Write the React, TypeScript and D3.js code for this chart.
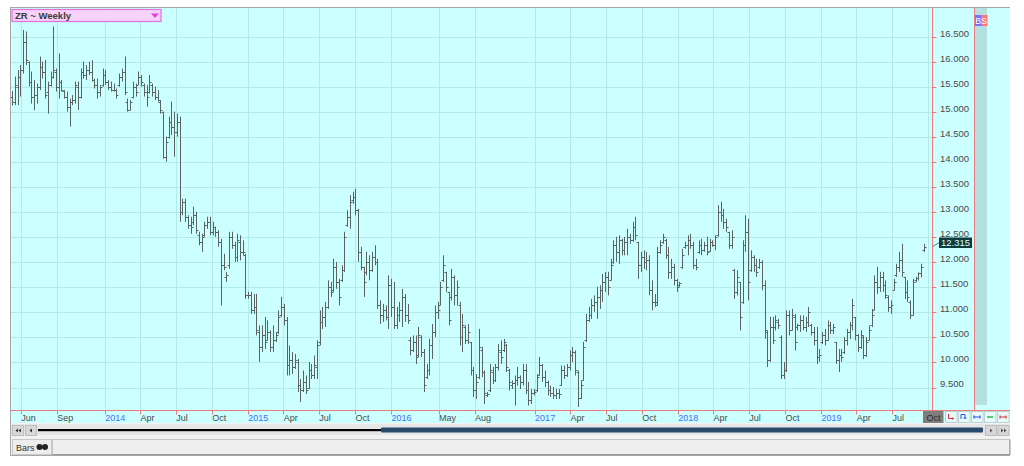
import React from 'react';
import * as d3 from 'd3';

// ---- Weekly OHLC data (ZR ~ Weekly), first bar week of 2013-05-10 ----
const firstBarDate = new Date(2013, 4, 10);

const highs: number[] = [
  15.42,15.71,15.84,15.94,16.64,16.61,16.01,15.81,15.64,15.57,
  16.11,16.01,16.04,15.61,15.81,16.71,15.87,16.17,15.64,15.44,
  15.41,15.27,15.34,15.61,15.61,15.87,16.01,15.94,16.01,16.04,
  15.67,15.67,15.54,15.87,15.84,15.64,15.61,15.57,15.47,15.77,
  15.87,16.11,15.27,15.24,15.61,15.57,15.81,15.74,15.57,15.54,
  15.74,15.57,15.51,15.44,15.24,15.01,14.51,14.91,15.21,15.01,
  14.97,14.91,13.27,13.27,12.94,12.91,13.11,13.01,12.61,12.57,
  12.81,12.91,12.91,12.81,12.71,12.64,12.47,12.17,11.81,12.61,
  12.61,12.41,12.57,12.54,
  12.44,12.17,11.41,11.41,11.37,11.37,10.74,10.74,10.91,10.84,
  10.64,10.74,10.61,11.04,11.31,11.17,10.91,10.34,10.21,10.17,
  10.07,9.67,9.84,9.74,10.01,9.97,10.14,10.44,11.04,11.11,
  11.21,11.64,11.61,12.07,12.01,11.67,11.94,12.61,13.04,13.34,
  13.41,13.47,13.07,12.31,11.91,12.21,12.14,12.21,12.34,12.07,
  11.24,11.17,11.14,11.74,11.67,11.61,11.11,11.21,11.47,11.37,
  11.17,10.51,10.54,10.54,10.71,10.54,10.27,9.97,10.47,10.77,
  11.14,11.21,11.61,12.14,11.81,11.41,11.87,11.74,11.64,11.21,
  10.97,10.74,10.77,
  10.41,9.91,9.77,10.67,10.31,9.84,9.41,9.97,9.91,9.97,
  10.37,10.44,10.47,10.37,9.87,9.64,9.74,9.91,9.74,9.97,
  9.97,9.61,9.47,9.47,9.77,10.11,9.97,9.84,9.64,9.54,
  9.51,9.47,9.47,9.94,9.94,9.97,10.24,10.31,10.24,9.84,
  9.64,10.41,10.97,11.11,11.27,11.34,11.51,11.54,11.77,11.81,
  11.81,12.07,12.44,12.51,12.54,12.47,12.51,12.67,12.57,12.81,
  12.91,12.41,12.21,12.24,12.21,12.14,11.64,11.37,12.31,12.44,
  12.57,12.47,12.31,12.07,11.97,11.67,11.61,12.27,12.41,12.54,
  12.57,12.41,12.07,12.44,
  12.47,12.41,12.51,12.47,12.44,12.54,13.14,13.21,13.07,12.87,
  12.61,12.64,11.87,11.84,11.61,12.44,12.94,12.87,12.24,12.14,
  12.07,12.07,12.04,11.64,10.64,10.91,10.91,10.94,10.87,10.54,
  10.01,11.04,11.04,11.07,10.97,10.77,10.94,10.94,10.91,11.11,
  10.77,10.71,10.71,10.27,10.61,10.67,10.84,10.81,10.77,10.41,
  10.27,10.27,10.51,10.67,10.81,11.27,10.91,10.57,10.64,10.54,
  10.51,10.74,11.07,11.74,11.91,11.81,11.81,11.64,11.34,11.24,
  11.67,11.97,12.21,12.37,11.71,11.64,11.24,11.67,11.71,11.80,
  11.97,12.37,
];

const lows: number[] = [
  15.13,15.14,15.14,15.31,15.77,15.94,15.51,15.17,15.04,15.17,
  15.44,15.67,15.27,14.97,15.51,15.67,15.41,15.27,15.41,15.27,
  15.01,14.71,15.14,15.17,15.04,15.27,15.67,15.64,15.74,15.61,
  15.47,15.27,15.31,15.51,15.54,15.44,15.41,15.41,15.27,15.51,
  15.61,15.34,15.01,15.04,15.27,15.31,15.54,15.51,15.31,15.11,
  15.37,15.31,15.24,15.21,14.97,14.07,14.01,14.47,14.54,14.11,
  14.51,12.81,12.94,12.81,12.67,12.57,12.74,12.57,12.34,12.21,
  12.51,12.67,12.54,12.54,12.51,12.31,11.14,11.84,11.61,11.87,
  12.27,12.01,12.01,12.04,
  12.14,11.27,11.27,10.97,10.97,10.54,10.01,10.21,10.27,10.44,
  10.21,10.21,10.41,10.57,10.91,10.74,9.74,9.74,9.77,9.87,
  9.41,9.21,9.41,9.37,9.47,9.67,9.67,9.67,10.34,10.67,
  10.71,11.07,11.31,11.41,11.47,11.14,11.61,11.81,12.71,12.67,
  13.17,12.94,12.01,11.84,11.31,11.74,11.64,11.81,11.94,11.07,
  10.77,10.81,10.84,10.67,10.91,10.67,10.67,10.81,10.71,10.81,
  10.77,10.14,10.21,9.97,10.11,10.11,9.41,9.67,9.74,10.07,
  10.51,10.87,11.14,11.61,11.41,10.74,11.24,11.14,11.14,10.34,
  10.21,10.37,10.37,
  9.74,9.31,9.27,9.67,9.71,9.17,9.31,9.41,9.57,9.61,
  9.84,9.97,10.21,9.81,9.44,9.47,9.14,9.54,9.47,9.54,
  9.37,9.14,9.17,9.34,9.41,9.74,9.61,9.51,9.34,9.31,
  9.27,9.27,9.27,9.54,9.67,9.71,9.84,10.01,9.74,9.11,
  9.27,9.64,10.41,10.81,10.87,11.01,10.87,11.07,11.21,11.41,
  11.34,11.64,11.97,12.01,11.97,12.14,12.14,12.14,12.37,12.41,
  12.44,11.67,11.81,11.87,11.84,11.34,11.04,11.11,11.14,12.17,
  12.37,12.07,11.67,11.67,11.54,11.41,11.51,11.87,12.27,12.14,
  12.27,11.87,11.84,12.17,
  12.14,12.21,12.14,12.21,12.31,12.24,12.51,12.81,12.67,12.61,
  12.27,12.27,11.27,11.34,10.64,11.17,12.21,11.24,11.81,11.81,
  11.71,11.87,11.44,10.47,9.91,10.01,10.37,10.64,10.67,9.67,
  9.67,9.81,10.54,10.64,10.24,10.64,10.61,10.64,10.61,10.71,
  10.54,10.34,9.97,10.01,10.37,10.34,10.44,10.57,10.57,9.97,
  9.81,10.01,10.17,10.34,10.47,10.64,10.44,10.21,10.27,10.07,
  10.11,10.44,10.71,11.04,11.37,11.41,11.41,11.27,11.01,10.97,
  11.44,11.71,11.81,11.71,11.27,11.21,10.87,10.94,11.60,11.64,
  11.70,12.21,
];

const opens: number[] = [
  15.30,15.20,15.50,15.70,15.85,16.40,16.00,15.60,15.30,15.35,
  15.50,15.90,15.80,15.40,15.55,15.70,15.80,15.50,15.60,15.42,
  15.30,15.10,15.20,15.25,15.50,15.30,15.80,15.75,15.85,15.80,
  15.65,15.55,15.40,15.55,15.75,15.60,15.50,15.45,15.45,15.55,
  15.70,15.80,15.20,15.05,15.30,15.50,15.55,15.70,15.55,15.40,
  15.40,15.55,15.40,15.30,15.20,15.00,14.10,14.50,14.80,14.70,
  14.60,14.80,13.00,13.20,12.90,12.75,12.80,12.95,12.55,12.40,
  12.55,12.75,12.80,12.60,12.70,12.60,12.40,11.95,11.70,11.95,
  12.50,12.35,12.10,12.40,
  12.20,12.15,11.35,11.35,11.05,11.10,10.60,10.30,10.55,10.45,
  10.60,10.30,10.45,10.60,10.95,11.10,10.85,9.95,10.05,9.90,
  10.00,9.55,9.45,9.60,9.50,9.85,9.75,9.90,10.40,10.80,
  10.90,11.10,11.50,11.45,11.90,11.60,11.65,11.85,12.75,12.90,
  13.25,13.30,13.05,12.20,11.90,11.80,12.00,11.85,12.10,12.00,
  11.15,10.95,11.05,10.90,11.55,11.10,10.75,10.95,11.05,11.30,
  10.95,10.45,10.25,10.40,10.15,10.50,10.20,9.70,9.85,10.35,
  10.60,11.00,11.15,11.65,11.80,11.40,11.30,11.70,11.35,11.15,
  10.50,10.70,10.45,
  10.40,9.85,9.45,9.70,10.25,9.80,9.35,9.45,9.80,9.65,
  9.90,10.20,10.25,10.35,9.85,9.55,9.58,9.65,9.70,9.60,
  9.85,9.45,9.25,9.40,9.45,9.75,9.95,9.70,9.60,9.45,
  9.40,9.35,9.40,9.55,9.85,9.75,9.90,10.15,10.20,9.80,
  9.30,9.65,10.45,10.85,10.95,11.15,11.20,11.30,11.45,11.60,
  11.70,11.65,12.00,12.35,12.20,12.45,12.25,12.40,12.50,12.45,
  12.70,12.40,11.95,12.10,12.00,12.05,11.45,11.20,11.20,12.20,
  12.40,12.45,12.15,11.80,11.90,11.65,11.55,11.90,12.30,12.35,
  12.45,12.35,11.95,12.20,
  12.35,12.25,12.35,12.22,12.40,12.35,12.55,13.00,12.95,12.80,
  12.60,12.35,11.85,11.40,11.60,11.20,12.35,12.60,11.85,12.10,
  11.95,11.90,12.00,11.55,10.60,10.05,10.70,10.70,10.80,10.50,
  9.75,9.85,10.95,10.65,10.90,10.70,10.75,10.85,10.70,10.80,
  10.75,10.60,10.45,10.10,10.40,10.55,10.45,10.75,10.65,10.40,
  10.05,10.15,10.20,10.45,10.60,10.75,10.90,10.55,10.30,10.50,
  10.15,10.45,10.75,11.05,11.60,11.50,11.70,11.55,11.30,11.10,
  11.45,11.75,11.90,12.05,11.70,11.40,11.20,10.95,11.65,11.68,
  11.78,12.25,
];

const closes: number[] = [
  15.20,15.55,15.70,15.85,16.40,16.05,15.60,15.30,15.35,15.50,
  15.90,15.80,15.35,15.55,15.70,15.85,15.50,15.60,15.45,15.30,
  15.10,15.20,15.25,15.55,15.30,15.80,15.75,15.85,15.80,15.65,
  15.55,15.40,15.50,15.75,15.60,15.50,15.45,15.45,15.35,15.70,
  15.80,15.40,15.05,15.20,15.50,15.40,15.70,15.60,15.40,15.30,
  15.60,15.40,15.30,15.25,15.05,14.10,14.40,14.80,14.70,14.60,
  14.80,13.00,13.20,12.90,12.75,12.70,12.95,12.65,12.40,12.50,
  12.75,12.80,12.60,12.70,12.60,12.40,11.95,11.90,11.75,12.50,
  12.35,12.10,12.45,12.20,
  12.20,11.35,11.35,11.05,11.10,10.65,10.30,10.55,10.40,10.60,
  10.30,10.45,10.55,10.90,11.10,10.85,9.95,10.05,9.90,10.05,
  9.55,9.45,9.60,9.45,9.85,9.75,9.95,10.35,10.80,10.90,
  11.10,11.50,11.40,11.90,11.60,11.30,11.85,12.50,12.90,13.20,
  13.30,13.05,12.20,11.90,11.60,12.00,11.85,12.10,12.00,11.15,
  10.95,11.05,10.90,11.55,11.10,10.75,10.95,11.05,11.30,10.95,
  10.85,10.25,10.40,10.10,10.55,10.20,9.55,9.85,10.35,10.60,
  11.00,11.05,11.50,11.95,11.50,10.85,11.70,11.35,11.50,10.50,
  10.75,10.45,10.60,
  9.85,9.45,9.60,10.30,9.80,9.40,9.38,9.85,9.65,9.90,
  10.25,10.10,10.40,9.90,9.60,9.58,9.65,9.70,9.60,9.85,
  9.45,9.25,9.40,9.42,9.70,9.95,9.70,9.60,9.45,9.40,
  9.35,9.40,9.38,9.85,9.75,9.90,10.15,10.20,9.85,9.30,
  9.55,10.30,10.85,10.95,11.15,11.20,11.30,11.45,11.60,11.70,
  11.50,11.95,12.35,12.20,12.45,12.25,12.40,12.50,12.45,12.70,
  12.55,11.95,12.10,12.00,12.05,11.45,11.20,11.15,12.20,12.35,
  12.50,12.15,11.80,11.90,11.65,11.50,11.58,12.15,12.35,12.45,
  12.35,11.95,11.90,12.35,
  12.25,12.35,12.20,12.40,12.35,12.50,13.00,12.95,12.80,12.70,
  12.35,12.50,11.40,11.70,10.90,12.35,12.60,11.60,12.10,11.95,
  11.80,12.00,11.55,10.65,10.05,10.70,10.45,10.85,10.75,9.75,
  9.85,10.95,10.65,10.95,10.40,10.75,10.85,10.70,10.80,11.00,
  10.60,10.45,10.10,10.15,10.55,10.45,10.75,10.65,10.70,10.05,
  10.15,10.10,10.45,10.60,10.75,11.15,10.55,10.30,10.55,10.15,
  10.40,10.65,10.95,11.60,11.50,11.70,11.55,11.35,11.10,11.15,
  11.60,11.90,12.05,11.80,11.40,11.30,10.95,11.60,11.68,11.78,
  11.90,12.315,
];

const yTickValues: number[] = [9.5, 10, 10.5, 11, 11.5, 12, 12.5, 13, 13.5, 14, 14.5, 15, 15.5, 16, 16.5];

const xTickLabels: string[] = ['Jun','Sep','2014','Apr','Jul','Oct','2015','Apr','Jul','Oct','2016','May','Aug','2017','Apr','Jul','Oct','2018','Apr','Jul','Oct','2019','Apr','Jul'];
const xTickDates: string[] = ['2013-06','2013-09','2014-01','2014-04','2014-07','2014-10','2015-01','2015-04','2015-07','2015-10','2016-01','2016-05','2016-08','2017-01','2017-04','2017-07','2017-10','2018-01','2018-04','2018-07','2018-10','2019-01','2019-04','2019-07'];
const lastTickLabel = 'Oct';
const lastTickDate = '2019-10';

const lastPriceText = '12.315';

const FONT = "'Liberation Sans', Arial, sans-serif";

function parseMonth(s: string): Date {
  const [y, m] = s.split('-').map(Number);
  return new Date(y, m - 1, 1);
}

export default function App() {
  const plotLeft = 10, plotRight = 932.5, plotTop = 8, plotBottom = 410.5;

  const x = d3.scaleTime()
    .domain([new Date(2013, 5, 1), new Date(2019, 6, 1)])
    .range([20.7, 892]);
  const y = d3.scaleLinear().domain([9.5, 16.5]).range([387.5, 37]);

  const bars = highs.map((h, i) => {
    const d = d3.timeDay.offset(firstBarDate, 7 * i);
    return { d, h, l: lows[i], o: opens[i], c: closes[i] };
  });

  const barPath = bars.map(b => {
    const bx = Math.round(x(b.d)) + 0.5;
    const yo = Math.round(y(b.o)) + 0.5;
    const yc = Math.round(y(b.c)) + 0.5;
    return `M${bx},${y(b.h)}V${y(b.l)}M${bx - 2},${yo}H${bx}M${bx},${yc}H${bx + 2}`;
  }).join('');

  const tickXs = xTickDates.map(s => x(parseMonth(s)));
  const lastTickX = x(parseMonth(lastTickDate));

  const red = '#ee7b7b';
  const grid = '#b2eaea';
  const lastBar = bars[bars.length - 1];

  return (
    <div style={{ position: 'absolute', left: 0, top: 0 }}>
      <svg width={1024} height={466} style={{ display: 'block' }} fontFamily={FONT}>
        <rect x={0} y={0} width={1024} height={466} fill="#ffffff" />
        {/* chart background */}
        <rect x={plotLeft} y={plotTop} width={1000} height={415} fill="#ccffff" />
        {/* horizontal grid */}
        {yTickValues.map(v => (
          <line key={'hg' + v} x1={plotLeft} x2={plotRight} y1={Math.round(y(v)) + 0.5} y2={Math.round(y(v)) + 0.5} stroke={grid} strokeWidth={1} />
        ))}
        {/* vertical grid */}
        {[...tickXs, lastTickX].map((tx, i) => (
          <line key={'vg' + i} x1={Math.round(tx) + 0.5} x2={Math.round(tx) + 0.5} y1={plotTop} y2={plotBottom} stroke={grid} strokeWidth={1} />
        ))}
        {/* right strip */}
        <rect x={975} y={plotTop} width={12} height={397} fill="#b5e0e0" />
        {/* red frame lines */}
        <line x1={plotRight} x2={plotRight} y1={plotTop} y2={plotBottom} stroke={red} strokeWidth={1} />
        <line x1={974.5} x2={974.5} y1={plotTop} y2={plotBottom} stroke={red} strokeWidth={1} />
        <line x1={plotLeft} x2={1010} y1={plotBottom} y2={plotBottom} stroke={red} strokeWidth={1} />

        {/* y axis ticks and labels */}
        {yTickValues.map(v => (
          <g key={'yt' + v}>
            <line x1={plotRight} x2={936.5} y1={Math.round(y(v)) + 0.5} y2={Math.round(y(v)) + 0.5} stroke={red} strokeWidth={1} />
            <text x={940} y={y(v) - 3} dominantBaseline="middle" fontSize={9.5} fill="#4a4a4a">{v.toFixed(3)}</text>
          </g>
        ))}

        {/* OHLC bars */}
        <path d={barPath} stroke="#5a6262" strokeWidth={1} fill="none" />

        {/* last price marker */}
        <line x1={plotRight} y1={y(lastBar.c)} x2={939.5} y2={242.5} stroke="#6a7a7a" strokeWidth={1} />
        <rect x={939} y={237.5} width={33} height={10.5} fill="#0e3b3b" />
        <text x={941} y={243} dominantBaseline="middle" fontSize={9.5} fill="#dffcfc">{lastPriceText}</text>

        {/* title box */}
        <rect x={12} y={9.5} width={149} height={12} fill="#f8d2f8" stroke="#e46ee4" strokeWidth={1.2} />
        <text x={15} y={19} fontSize={9.5} fontWeight="bold" fill="#3a3a3a">ZR ~ Weekly</text>
        <path d="M151,13.5L159,13.5L155,18Z" fill="#e040e0" />

        {/* B / S boxes */}
        <rect x={975} y={15} width={6} height={11} fill="#7474ff" />
        <rect x={981} y={15} width={6.5} height={11} fill="#ff7474" />
        <text x={978} y={24} fontSize={8.5} fill="#ffffff" textAnchor="middle">B</text>
        <text x={984.2} y={24} fontSize={8.5} fill="#ffffff" textAnchor="middle">S</text>

        {/* x ticks and labels */}
        {tickXs.map((tx, i) => {
          const isYear = /^\d{4}$/.test(xTickLabels[i]);
          return (
            <g key={'xt' + i}>
              <line x1={Math.round(tx) + 0.5} x2={Math.round(tx) + 0.5} y1={plotBottom} y2={414.5} stroke={red} strokeWidth={1} />
              <text x={tx + 0.5} y={420.5} fontSize={9} fill={isYear ? '#4a6cff' : '#4a4a4a'}>{xTickLabels[i]}</text>
            </g>
          );
        })}
        {/* current month box */}
        <rect x={923} y={411} width={20.5} height={12} fill="#7e7e7e" />
        <text x={926.5} y={420.5} fontSize={9} fill="#2a2a2a">{lastTickLabel}</text>

        {/* small control buttons */}
        {[945, 958, 971, 984, 997].map((bx, i) => (
          <rect key={'btn' + i} x={bx + 0.5} y={411.5} width={11.5} height={11} fill="#e6fafa" stroke="#b9d4d4" strokeWidth={1} />
        ))}
        <path d="M948.5,414V418.5H954M952.5,417.5V419.5" stroke="#e03030" strokeWidth={1} fill="none" />
        <path d="M961,419V414.5H965V419M966.5,418H963.5" stroke="#3050e0" strokeWidth={1} fill="none" />
        <path d="M974,417H980M974,415.5V418.5M980,415.5V418.5" stroke="#3050e0" strokeWidth={1.2} fill="none" />
        <path d="M987,417H993" stroke="#30c050" strokeWidth={1.6} fill="none" />
        <path d="M1000,417H1006M1000,415.5V418.5M1006,415.5V418.5" stroke="#e03030" strokeWidth={1.2} fill="none" />

        {/* scrollbar row */}
        <rect x={plotLeft} y={423.5} width={1000} height={12} fill="#e6e6e6" />
        <rect x={12.5} y={425.5} width={11} height={10} fill="#d8d8d8" stroke="#bdbdbd" />
        <rect x={25.5} y={425.5} width={11} height={10} fill="#d8d8d8" stroke="#bdbdbd" />
        <path d="M15.5,430.5L18,428.5V432.5ZM18.5,430.5L21,428.5V432.5Z" fill="#333" />
        <path d="M29.5,430.5L32,428.5V432.5Z" fill="#333" />
        <rect x={38} y={429} width={344} height={2.2} fill="#000000" />
        <rect x={381} y={427.5} width={602} height={5} fill="#294b6b" rx={1} />
        <rect x={985.5} y={425.5} width={11} height={10} fill="#d8d8d8" stroke="#bdbdbd" />
        <rect x={998} y={425.5} width={11} height={10} fill="#d8d8d8" stroke="#bdbdbd" />
        <path d="M990,428.5L992.5,430.5L990,432.5Z" fill="#555" />
        <path d="M1001,428.5L1003.5,430.5L1001,432.5ZM1004,428.5L1006.5,430.5L1004,432.5Z" fill="#555" />

        {/* tab row */}
        <rect x={plotLeft} y={436} width={1000} height={20} fill="#f2f2f2" />
        <rect x={52.5} y={439.5} width={957} height={15} fill="#efefef" stroke="#c4c4c4" />
        <line x1={52.5} x2={1010} y1={454.5} y2={454.5} stroke="#9a9a9a" />
        <line x1={1010} x2={1010} y1={439.5} y2={455} stroke="#9a9a9a" />
        <rect x={12.5} y={439.5} width={39} height={15} fill="#ededed" stroke="#c8c8c8" />
        <text x={16} y={450.5} fontSize={9} fill="#333">Bars</text>
        <circle cx={39.5} cy={447} r={3} fill="#222" />
        <circle cx={45} cy={447} r={3} fill="#222" />

        {/* outer borders */}
        <line x1={plotLeft} x2={1010} y1={7.5} y2={7.5} stroke="#a6a6a6" />
        <line x1={10.5} x2={10.5} y1={7.5} y2={455.5} stroke="#a6a6a6" />
        <line x1={plotLeft} x2={1010} y1={455.5} y2={455.5} stroke="#a6a6a6" />
      </svg>
    </div>
  );
}
